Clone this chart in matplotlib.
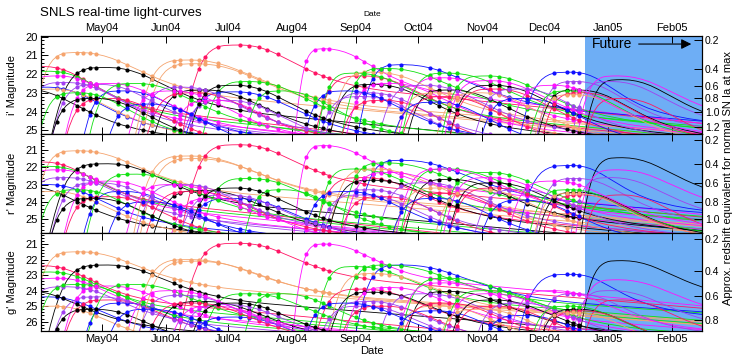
import numpy as np
import matplotlib.pyplot as plt
import matplotlib.dates as mdates
from matplotlib.ticker import MultipleLocator

plt.rcParams["font.family"] = ["Liberation Sans", "DejaVu Sans"]

# light-curve template: rest-frame days from maximum and magnitudes below peak
template_days = [-17, -16, -15, -14, -13, -12, -11, -10, -9, -8, -7, -6, -5, -4, -2, 0,
                 2, 4, 6, 8, 10, 12, 14, 16, 18, 20, 23, 26, 30, 35, 40, 50, 60, 75,
                 90, 110, 135, 160]
template_dmag = [8.0, 6.3, 5.0, 3.9, 2.95, 2.15, 1.5, 1.0, 0.65, 0.4, 0.24, 0.13, 0.06,
                 0.025, 0.005, 0.0, 0.02, 0.08, 0.18, 0.32, 0.5, 0.7, 0.9, 1.1, 1.3,
                 1.48, 1.72, 1.92, 2.13, 2.33, 2.48, 2.7, 2.9, 3.2, 3.5, 3.9, 4.4, 4.9]

# nights with measurements
obs_dates = ["2004-04-09", "2004-04-12", "2004-04-19", "2004-04-22", "2004-04-25",
             "2004-04-28", "2004-05-09", "2004-05-13", "2004-05-21", "2004-05-25",
             "2004-06-05", "2004-06-08", "2004-06-13", "2004-06-17", "2004-06-20",
             "2004-06-26", "2004-07-07", "2004-07-11", "2004-07-16", "2004-07-20",
             "2004-07-25", "2004-08-08", "2004-08-12", "2004-08-16", "2004-08-19",
             "2004-09-01", "2004-09-05", "2004-09-09", "2004-09-13", "2004-09-17",
             "2004-09-23", "2004-10-07", "2004-10-11", "2004-10-16", "2004-10-20",
             "2004-11-05", "2004-11-09", "2004-11-14", "2004-11-23", "2004-12-06",
             "2004-12-12", "2004-12-15", "2004-12-18"]

# supernovae: date of maximum, peak magnitude in each band, colour, stretch
sn_peak = ["2004-04-20", "2004-04-03", "2004-04-06", "2004-04-10", "2004-04-14",
           "2004-04-05", "2004-05-04", "2004-03-25", "2004-04-08", "2004-05-05",
           "2004-05-12", "2004-04-20", "2004-04-30", "2004-05-05", "2004-04-28",
           "2004-06-13", "2004-06-16", "2004-07-07", "2004-08-17", "2004-06-20",
           "2004-07-12", "2004-07-05", "2004-07-01", "2004-06-25", "2004-05-18",
           "2004-05-25", "2004-06-15", "2004-07-28", "2004-09-05", "2004-09-01",
           "2004-09-10", "2004-09-05", "2004-09-24", "2004-09-16", "2004-09-10",
           "2004-09-18", "2004-09-15", "2004-09-08", "2004-10-16", "2004-10-14",
           "2004-10-17", "2004-10-12", "2004-10-15", "2004-10-10", "2004-10-05",
           "2004-11-04", "2004-11-07", "2004-11-05", "2004-11-08", "2004-11-01",
           "2004-11-22", "2004-11-20", "2004-12-15", "2004-12-17", "2004-12-18",
           "2005-01-08", "2005-01-06", "2005-01-08", "2005-01-03", "2004-12-14",
           "2004-12-20", "2004-12-16", "2004-12-06", "2004-06-10", "2004-06-05",
           "2004-08-28", "2004-07-05"]
sn_i = [20.85, 21.60, 21.85, 22.10, 22.45, 22.70, 21.65, 22.80, 22.80, 23.30,
        22.90, 23.00, 22.55, 22.50, 23.30, 21.25, 21.45, 20.45, 20.65, 22.85,
        22.40, 22.95, 23.40, 23.40, 22.50, 23.60, 23.00, 22.90, 22.10, 21.95,
        21.90, 23.20, 21.50, 21.70, 22.55, 22.50, 23.40, 23.00, 21.95, 22.20,
        22.85, 23.00, 23.20, 23.50, 22.60, 22.10, 22.60, 22.35, 22.80, 23.00,
        23.30, 22.80, 21.90, 22.40, 22.85, 22.30, 22.10, 23.30, 22.40, 22.90,
        23.00, 23.10, 22.60, 22.70, 22.90, 22.90, 22.60]
sn_r = [21.05, 21.70, 21.95, 22.15, 22.60, 23.00, 21.80, 23.10, 23.40, 23.70,
        23.40, 23.30, 22.90, 22.80, 23.80, 21.35, 21.50, 20.70, 20.75, 23.35,
        22.65, 23.80, 23.60, 23.80, 22.40, 24.00, 23.40, 23.30, 22.60, 22.10,
        22.10, 23.60, 21.60, 21.75, 22.75, 22.30, 23.70, 23.30, 22.10, 22.10,
        22.70, 23.20, 23.50, 23.80, 22.90, 22.30, 22.90, 22.60, 23.20, 23.30,
        23.90, 23.30, 21.90, 22.65, 23.45, 21.45, 22.15, 23.60, 22.60, 23.30,
        23.60, 23.50, 22.80, 23.00, 23.00, 23.40, 23.20]
sn_g = [21.50, 22.40, 22.80, 23.20, 23.75, 24.40, 22.35, 24.00, 25.00, 24.60,
        24.80, 23.60, 24.40, 23.70, 25.20, 22.00, 22.10, 20.95, 21.00, 24.70,
        24.20, 25.70, 24.90, 25.00, 23.60, 25.20, 24.80, 24.20, 23.90, 22.45,
        22.90, 25.00, 22.35, 22.35, 24.10, 23.80, 25.00, 24.70, 23.20, 23.50,
        24.05, 25.00, 24.80, 25.30, 24.20, 24.00, 24.60, 24.20, 25.00, 25.20,
        25.60, 24.80, 22.95, 24.20, 25.20, 22.07, 23.30, 24.60, 24.00, 25.00,
        25.30, 25.40, 24.00, 24.30, 24.00, 24.80, 24.80]
sn_colour = ["orange", "crimson", "green", "magenta", "purple", "blue", "black",
             "black", "orange", "crimson", "blue", "green", "purple", "magenta",
             "black", "orange", "orange", "crimson", "magenta", "black", "green",
             "blue", "purple", "magenta", "green", "blue", "crimson", "green",
             "crimson", "green", "orange", "purple", "blue", "green", "black",
             "magenta", "crimson", "purple", "green", "magenta", "black", "orange",
             "crimson", "blue", "purple", "green", "black", "magenta", "crimson",
             "orange", "blue", "purple", "blue", "purple", "black", "black",
             "magenta", "crimson", "purple", "green", "crimson", "orange", "magenta",
             "purple", "magenta", "blue", "black"]
sn_rise = [1.6, 1.5, 1.6, 1.6, 1.7, 1.7, 2.0, 1.8, 1.8, 1.8, 1.6, 1.6, 1.8, 1.7,
           1.8, 1.9, 1.9, 1.9, 1.0, 2.0, 1.8, 2.0, 1.9, 1.8, 1.8, 1.8, 1.9, 1.5,
           1.8, 1.4, 1.6, 1.8, 1.6, 1.6, 1.7, 1.7, 1.8, 1.8, 1.7, 1.7, 1.7, 1.8,
           1.8, 1.8, 1.8, 1.7, 1.7, 1.7, 1.8, 1.8, 1.8, 1.8, 1.9, 1.5, 1.6, 1.4,
           1.5, 1.5, 1.5, 1.6, 1.6, 1.6, 1.7, 1.8, 1.8, 1.7, 1.8]
sn_fall = [2.0, 1.6, 1.7, 1.7, 1.8, 1.8, 1.9, 1.8, 1.8, 1.8, 1.8, 1.7, 1.8, 1.8,
           1.8, 2.2, 2.2, 1.8, 1.6, 2.0, 1.9, 2.0, 1.9, 1.8, 1.9, 1.8, 1.9, 1.7,
           1.9, 1.9, 2.0, 1.8, 2.2, 2.2, 1.9, 1.9, 1.8, 1.8, 2.0, 1.9, 1.9, 1.8,
           1.8, 1.8, 1.9, 1.9, 1.9, 1.9, 1.8, 1.8, 1.8, 1.8, 1.4, 1.6, 1.7, 1.7,
           1.9, 1.7, 1.8, 1.7, 1.7, 1.7, 1.8, 1.8, 1.8, 1.8, 1.8]

palette = {"orange": "#f5a46e", "black": "#000000", "green": "#10e010",
           "magenta": "#ff10ff", "purple": "#a040f0", "blue": "#1010ff",
           "crimson": "#ff1464"}

# right-hand axis: magnitude of a normal SN Ia at max for each redshift
z_labels = {"i'": ["0.2", "0.4", "0.6", "0.8", "1.0", "1.2"],
            "r'": ["0.2", "0.4", "0.6", "0.8", "1.0"],
            "g'": ["0.2", "0.4", "0.6", "0.8"]}
z_mags = {"i'": [20.18, 21.73, 22.63, 23.29, 24.04, 24.84],
          "r'": [20.42, 21.83, 22.9, 24.0, 24.97],
          "g'": [20.65, 22.74, 24.35, 25.9]}
band_mags = {"i'": sn_i, "r'": sn_r, "g'": sn_g}
band_lims = {"i'": (25.2, 19.97), "r'": (25.8, 20.08), "g'": (26.6, 20.29)}

x0 = mdates.datestr2num("2004-04-01 12:00")
x1 = mdates.datestr2num("2005-02-15 12:00")
future = mdates.datestr2num("2004-12-21")
obs = mdates.datestr2num(obs_dates)
tdays = np.array(template_days, float)
tdmag = np.array(template_dmag, float)

fig = plt.figure(figsize=(7.34, 3.58), dpi=100)
bottoms = [0.6257, 0.3492, 0.0754]
heights = [0.2737, 0.2765, 0.2737]

for k, band in enumerate(["i'", "r'", "g'"]):
    ax = fig.add_axes([0.0559, bottoms[k], 0.9005, heights[k]])
    ax.axvspan(future, x1, color="#6eaef5", lw=0, zorder=0)
    for j, peak in enumerate(sn_peak):
        p = mdates.datestr2num(peak)
        col = palette[sn_colour[j]]
        m0 = band_mags[band][j]
        shift = np.where(tdays < 0, tdays * sn_rise[j], tdays * sn_fall[j])
        ax.plot(p + shift, m0 + tdmag, color=col, lw=0.6, zorder=2)
        dt = obs - p
        rest = np.where(dt < 0, dt / sn_rise[j], dt / sn_fall[j])
        keep = (rest > -11) & (rest < 35)
        ax.plot(obs[keep], m0 + np.interp(rest[keep], tdays, tdmag), "o",
                color=col, ms=3.0, mew=0, zorder=3)
    ax.set_xlim(x0, x1)
    ax.set_ylim(*band_lims[band])
    ax.yaxis.set_major_locator(MultipleLocator(1))
    ax.yaxis.set_minor_locator(MultipleLocator(0.2))
    ax.xaxis.set_major_locator(mdates.MonthLocator())
    ax.xaxis.set_minor_locator(mdates.DayLocator(bymonthday=[5, 9, 13, 17, 21, 25, 29]))
    ax.xaxis.set_major_formatter(mdates.DateFormatter("%b%y"))
    ax.tick_params(which="both", direction="in", top=True, right=False,
                   labelsize=8, pad=2, width=0.7)
    ax.tick_params(which="major", length=5)
    ax.tick_params(which="minor", length=2.5)
    ax.tick_params(axis="x", labeltop=(k == 0), labelbottom=(k == 2))
    ax.set_ylabel(f"{band} Magnitude", fontsize=8)
    ax.yaxis.set_label_coords(-0.037, 0.5)
    for s in ax.spines.values():
        s.set_linewidth(0.8)
    axr = ax.twinx()
    axr.set_ylim(*band_lims[band])
    axr.set_yticks(z_mags[band], z_labels[band])
    axr.tick_params(direction="in", length=6, width=0.7, labelsize=7.5, pad=2)
    axr.minorticks_off()
    if k == 0:
        ax.text(0.834, 0.918, "Future", transform=ax.transAxes, fontsize=10,
                va="center", ha="left", zorder=5)
        ax.annotate("", xy=(0.988, 0.918), xytext=(0.900, 0.918),
                    xycoords="axes fraction", zorder=5,
                    arrowprops=dict(arrowstyle="-|>", color="black", lw=0.8,
                                    mutation_scale=15))

fig.text(40 / 734, 1 - 13 / 358, "SNLS real-time light-curves", fontsize=9.5,
         ha="left", va="center")
fig.text(372 / 734, 1 - 15 / 358, "Date", fontsize=6, ha="center", va="center")
fig.text(372 / 734, 1 - 351 / 358, "Date", fontsize=8, ha="center", va="center")
fig.text(728 / 734, 1 - 178 / 358, "Approx. redshift equivalent for normal SN Ia at max",
         fontsize=8, rotation=90, ha="center", va="center")

fig.savefig("out.png", dpi=100)
